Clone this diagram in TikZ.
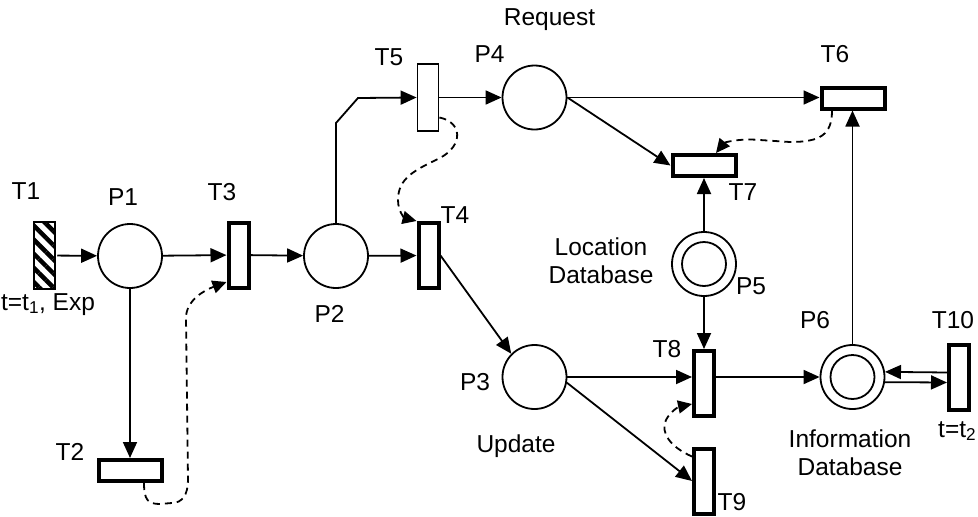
\documentclass[tikz,border=0pt]{standalone}
\usepackage{fontspec}
\setmainfont{Liberation Sans}
\usetikzlibrary{arrows.meta,calc,patterns.meta}

\tikzset{
  lbl/.style={font=\fontsize{24.5}{28}\selectfont, inner sep=0pt, anchor=base},
  place/.style={circle, draw, line width=1.8pt, minimum size=64pt, inner sep=0pt},
  vtrans/.style={rectangle, draw, fill=white, line width=4pt, minimum width=20pt, minimum height=65pt, inner sep=0pt},
  htrans/.style={rectangle, draw, fill=white, line width=4pt, minimum width=63pt, minimum height=21pt, inner sep=0pt},
  thintrans/.style={rectangle, draw, fill=white, line width=1.8pt, minimum width=21pt, minimum height=67pt, inner sep=0pt},
  arc/.style={line width=1.8pt, -{Triangle[length=16pt,width=14pt]}},
  ctrl/.style={line width=1.8pt, dash pattern=on 7pt off 5pt, -{Triangle[length=14pt,width=13pt]}},
  ring/.style={line width=1.8pt},
}

\begin{document}
\begin{tikzpicture}[x=1pt,y=-1pt]
\useasboundingbox (0,0) rectangle (978,517);

% places
\node[place] (P1) at (130,256) {};
\node[place] (P2) at (336,256) {};
\node[place] (P3) at (534.5,377) {};
\node[place] (P4) at (534.5,97.5) {};
\node[place] (P5) at (704,264) {};
\node[place] (P6) at (852.5,377) {};
\draw[ring] (P5.center) circle[radius=22];
\draw[ring] (P6.center) circle[radius=22];

% transitions
\node[thintrans, pattern={Lines[angle=-45,distance=10pt,line width=4.5pt]}] (T1) at (44.5,255.5) {};
\node[htrans] (T2) at (130,470.5) {};
\node[vtrans] (T3) at (238.5,255) {};
\node[vtrans] (T4) at (428.5,255.5) {};
\node[thintrans] (T5) at (428,97.5) {};
\node[htrans] (T6) at (853,98) {};
\node[htrans] (T7) at (704,165.5) {};
\node[vtrans] (T8) at (704,383.5) {};
\node[vtrans] (T9) at (704,481) {};
\node[vtrans] (T10) at (959,377.5) {};

% bend of the arc from P2 to T5
\coordinate (b1) at (336,123);
\coordinate (b2) at (358,98);

% arcs
\draw[arc] (T1) -- (P1);
\draw[arc] (P1) -- (T3);
\draw[arc] (T3) -- (P2);
\draw[arc] (P2) -- (T4);
\draw[arc] (P1) -- (T2);
\draw[arc] (P2.north) -- (b1) -- (b2) -- (T5.west);
\draw[arc] (T5) -- (P4);
\draw[arc] (P4.east) -- (P4.east -| T6.west);
\draw[arc] (P4.east) -- (T7.west);
\draw[arc] (P5) -- (T7);
\draw[arc] (P5) -- (T8);
\draw[arc] (P6.north) -- (P6.north |- T6.south);
\draw[arc] (T4.east) -- (P3.135);
\draw[arc] (P3.east) -- (P3.east -| T8.west);
\draw[arc] (P3.-10) -- (T9.west);
\draw[arc] (T8.east |- P6.west) -- (P6.west);
\draw[arc] ($(T10.west)+(0,-5)$) -- (P6.9);
\draw[arc] (P6.-9) -- ($(T10.west)+(0,5)$);

% dashed control arcs
\draw[ctrl] ($(T2.south)+(14,0)$) .. controls (144,500) and (148,504) .. (160,504)
  -- (172,503) .. controls (182,503) and (188,495) .. (188,480)
  -- (186,318) .. controls (186,300) and (205,290) .. ($(T3.west)+(0,27)$);
\draw[ctrl] ($(T5.east)+(0,20)$) .. controls (462,122) and (464,145) .. (440,158)
  .. controls (415,170) and (398,178) .. (398,200)
  .. controls (398,212) and (405,218) .. (T4.north west);
\draw[ctrl] ($(T6.south)+(-21,0)$) .. controls (832,135) and (820,142) .. (790,142)
  -- (760,140) .. controls (738,138) and (724,143) .. ($(T7.north)+(12,0)$);
\draw[ctrl] ($(T9.north west)+(0,10)$) .. controls (670,447) and (660,432) .. (666,420)
  .. controls (670,412) and (678,407) .. ($(T8.south west)+(0,-14)$);

% labels
\node[lbl] (lT1) at (26,199) {T1};
\node[lbl] (lT1d) at (48,310) {t=t\textsubscript{1}, Exp};
\node[lbl] (lP1) at (123,205) {P1};
\node[lbl] (lT2) at (70,460) {T2};
\node[lbl] (lT3) at (222,200) {T3};
\node[lbl] (lP2) at (329.5,322) {P2};
\node[lbl] (lT4) at (455,223) {T4};
\node[lbl] (lT5) at (389,65) {T5};
\node[lbl] (lP4) at (489.5,62) {P4};
\node[lbl] (lreq) at (549.5,25) {Request};
\node[lbl] (lT6) at (835,62) {T6};
\node[lbl] (lT7) at (743,200) {T7};
\node[lbl] (lloc1) at (601,255) {Location};
\node[lbl] (lloc2) at (601,283) {Database};
\node[lbl] (lP5) at (751,294) {P5};
\node[lbl] (lP3) at (475,390) {P3};
\node[lbl] (lupd) at (516,452) {Update};
\node[lbl] (lT8) at (667,357) {T8};
\node[lbl] (lT9) at (732,510) {T9};
\node[lbl] (lP6) at (815,328) {P6};
\node[lbl] (lT10) at (953,328) {T10};
\node[lbl, anchor=base west] (lT10d) at (938,437) {t=t\textsubscript{2}};
\node[lbl] (linf1) at (850,447) {Information};
\node[lbl] (linf2) at (850,475) {Database};
\end{tikzpicture}
\end{document}
